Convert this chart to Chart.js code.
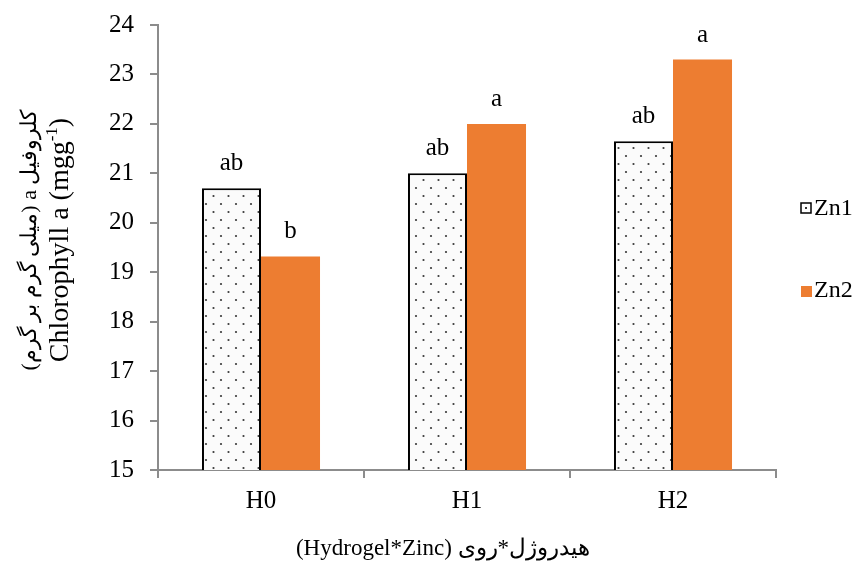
<!DOCTYPE html>
<html>
<head>
<meta charset="utf-8">
<script src="https://cdn.jsdelivr.net/npm/chart.js@4.4.1/dist/chart.umd.min.js"></script>
<style>
  html, body { margin: 0; padding: 0; background: #fff; }
  #wrap { width: 856px; height: 565px; position: relative; }
</style>
</head>
<body>
<div id="wrap"><canvas id="chlorophyllChart" width="856" height="565"></canvas></div>
<script>
const groups = ["H0", "H1", "H2"];
const seriesNames = ["Zn1", "Zn2"];
const zn1Values = [20.7, 21.0, 21.65];
const zn2Values = [19.32, 22.0, 23.3];
const zn1Letters = ["ab", "ab", "ab"];
const zn2Letters = ["b", "a", "a"];
const yTicks = [15, 16, 17, 18, 19, 20, 21, 22, 23, 24];

const FONT = "'Liberation Serif', 'Times New Roman', serif";
const SIZE = 25;
const ORANGE = "#ed7d31";
const AXIS = "#8c8c8c";

// dotted fill for the Zn1 bars
function dotPattern() {
    const c = document.createElement("canvas");
    c.width = 15;
    c.height = 16;
    const g = c.getContext("2d");
    g.fillStyle = "#fbfbfb";
    g.fillRect(0, 0, 15, 16);
    g.fillStyle = "#3a3a3a";
    g.beginPath(); g.arc(3.5, 4, 1.1, 0, Math.PI * 2); g.fill();
    g.beginPath(); g.arc(11, 12, 1.1, 0, Math.PI * 2); g.fill();
    return g.createPattern(c, "repeat");
}
const dots = dotPattern();

const letters = [zn1Letters, zn2Letters];

const barLetters = {
    id: "barLetters",
    afterDatasetsDraw(chart) {
        const ctx = chart.ctx;
        ctx.save();
        ctx.font = SIZE + "px " + FONT;
        ctx.fillStyle = "#000";
        ctx.textAlign = "center";
        ctx.textBaseline = "alphabetic";
        chart.data.datasets.forEach((ds, i) => {
            chart.getDatasetMeta(i).data.forEach((bar, j) => {
                ctx.fillText(letters[i][j], bar.x, bar.y - 18);
            });
        });
        ctx.restore();
    }
};

const titles = {
    id: "titles",
    afterDraw(chart) {
        const ctx = chart.ctx;
        ctx.save();
        ctx.fillStyle = "#000";

        // x title
        ctx.font = "23px " + FONT;
        ctx.textAlign = "center";
        ctx.textBaseline = "middle";
        ctx.direction = "ltr";
        ctx.fillText("(Hydrogel*Zinc) هیدروژل*روی", 443, 549);

        // y title, two rotated lines
        ctx.translate(0, 240);
        ctx.rotate(-Math.PI / 2);
        ctx.textBaseline = "alphabetic";
        ctx.direction = "rtl";
        ctx.textAlign = "center";
        ctx.font = "22px " + FONT;
        ctx.fillText("کلروفیل a (میلی گرم بر گرم)", 0, 36);

        ctx.direction = "ltr";
        ctx.textAlign = "left";
        const main = "Chlorophyll a (mgg";
        ctx.font = "28px " + FONT;
        const w1 = ctx.measureText(main).width;
        ctx.font = "17px " + FONT;
        const w2 = ctx.measureText("-1").width;
        ctx.font = "28px " + FONT;
        const w3 = ctx.measureText(")").width;
        let x = -(w1 + w2 + w3) / 2;
        ctx.fillText(main, x, 68);
        x += w1;
        ctx.font = "17px " + FONT;
        ctx.fillText("-1", x, 57);
        x += w2;
        ctx.font = "28px " + FONT;
        ctx.fillText(")", x, 68);
        ctx.restore();

        // legend
        ctx.save();
        ctx.font = "24px " + FONT;
        ctx.textBaseline = "middle";
        ctx.textAlign = "left";
        ctx.fillStyle = "#000";
        ctx.fillText(seriesNames[0], 814, 209);
        ctx.fillText(seriesNames[1], 814, 291);
        ctx.fillStyle = "#fff";
        ctx.fillRect(801, 203, 10, 10);
        ctx.strokeStyle = "#000";
        ctx.lineWidth = 1.5;
        ctx.strokeRect(801, 203, 10, 10);
        ctx.fillStyle = "#333";
        ctx.fillRect(805, 207, 2, 2);
        ctx.fillStyle = ORANGE;
        ctx.fillRect(801, 286, 11, 11);
        ctx.restore();
    }
};

new Chart(document.getElementById("chlorophyllChart"), {
    type: "bar",
    data: {
        labels: groups,
        datasets: [{
            label: seriesNames[0],
            data: zn1Values,
            backgroundColor: dots,
            borderColor: "#000",
            borderWidth: 2,
            borderSkipped: "bottom",
            categoryPercentage: 0.573,
            barPercentage: 1.0
        }, {
            label: seriesNames[1],
            data: zn2Values,
            backgroundColor: ORANGE,
            borderWidth: 0,
            categoryPercentage: 0.573,
            barPercentage: 1.0
        }]
    },
    options: {
        responsive: false,
        animation: false,
        layout: { padding: { top: 25, right: 80, left: 0, bottom: 0 } },
        plugins: {
            legend: { display: false },
            tooltip: { enabled: false }
        },
        scales: {
            x: {
                offset: true,
                grid: {
                    offset: true,
                    drawOnChartArea: false,
                    color: AXIS,
                    tickLength: 8,
                    lineWidth: 2
                },
                border: { color: AXIS, width: 2 },
                ticks: {
                    color: "#000",
                    font: { family: FONT, size: SIZE },
                    padding: 8
                },
                afterFit: s => { s.height = 95; s.paddingLeft = 0; s.paddingRight = 0; }
            },
            y: {
                min: yTicks[0],
                max: yTicks[yTicks.length - 1],
                afterBuildTicks: s => { s.ticks = yTicks.map(v => ({ value: v })); },
                grid: {
                    drawOnChartArea: false,
                    color: AXIS,
                    tickLength: 8,
                    lineWidth: 2
                },
                border: { color: AXIS, width: 2 },
                ticks: {
                    color: "#000",
                    font: { family: FONT, size: SIZE },
                    padding: 16
                },
                afterFit: s => { s.width = 158; s.paddingTop = 0; s.paddingBottom = 0; }
            }
        }
    },
    plugins: [barLetters, titles]
});
</script>
</body>
</html>
